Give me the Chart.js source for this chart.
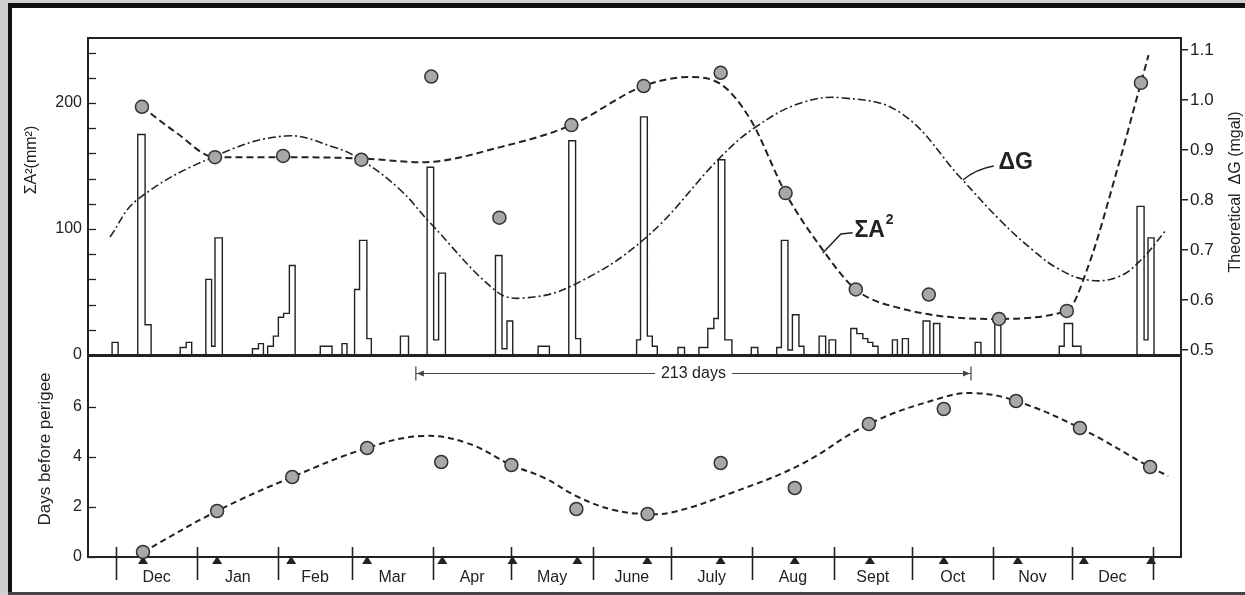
<!DOCTYPE html>
<html>
<head>
<meta charset="utf-8">
<script src="https://cdn.jsdelivr.net/npm/chart.js@4.4.1/dist/chart.umd.min.js"></script>
<style>
  body { margin: 0; background: #cfcfcf; width: 1245px; height: 595px; overflow: hidden; }
  #frame { position: absolute; left: 8px; top: 3px; width: 1237px; height: 589px; box-sizing: border-box;
           background: #fff; border-left: 4px solid #111; border-top: 5px solid #111; }
  #shade { position: absolute; left: 8px; top: 592px; width: 1237px; height: 3px; background: #444; }
  canvas { position: absolute; left: 0; top: 0; }
</style>
</head>
<body>
<div id="frame"></div>
<div id="shade"></div>
<canvas id="topChart" width="1245" height="595"></canvas>
<canvas id="bottomChart" width="1245" height="595"></canvas>
<script>
// x is counted in days from 1 December
const monthNames = ["Dec", "Jan", "Feb", "Mar", "Apr", "May", "June", "July", "Aug", "Sept", "Oct", "Nov", "Dec"];
const monthStarts = [0, 31, 62, 90, 121, 151, 182, 212, 243, 274, 304, 335, 365, 396];
const perigeeDays = [10.3, 38.6, 66.9, 95.9, 124.6, 151.4, 176.2, 202.9, 230.9, 259.2, 287.9, 316.1, 344.4, 369.6, 395.3];

// ΣA² (mm²) monthly sums
const sumDays = [9.9, 37.8, 63.8, 93.7, 120.4, 146.4, 173.9, 201.5, 230.9, 255.7, 282.5, 310.4, 337.2, 363.1, 391.4];
const sumValues = [197, 157, 158, 155, 221, 109, 182.5, 213.5, 224, 128.5, 52, 48, 28.6, 35, 216];
const sumCurveDays = [9.9, 23.3, 37.8, 65, 93.7, 117, 146.8, 173.9, 201.5, 218.7, 230.9, 242.4, 255.7, 269, 282.5, 299.7, 334, 363.1, 371.2, 382.6, 391.4, 394.3];
const sumCurveValues = [197, 176, 157, 157, 156, 153, 165, 182.5, 213.5, 220.6, 215, 186.5, 128.5, 86, 52, 37, 28.6, 35, 70, 149, 216, 238];

// theoretical ΔG (mgal)
const gCurveDays = [-2.3, 8, 37.1, 64.6, 83, 93.7, 108.6, 120, 145.6, 155.6, 173.9, 202.2, 230.9, 244.3, 261.5, 277.9, 299.7, 322.6, 337.9, 350.5, 360, 371.2, 382.6, 391.4, 401];
const gCurveValues = [0.726, 0.80, 0.886, 0.928, 0.906, 0.88, 0.82, 0.754, 0.616, 0.604, 0.628, 0.724, 0.886, 0.946, 0.994, 1.004, 0.974, 0.844, 0.758, 0.698, 0.662, 0.64, 0.646, 0.68, 0.74];

// histogram of A² (left edge day, right edge day, height)
const barFrom = [-1.5, 8.3, 11.1, 24.5, 26.8, 34.3, 36.5, 37.8, 52.1, 54.4, 57.9, 60.1, 62.0, 64.0, 66.2, 78.0, 86.3, 91.1, 93.0, 95.8, 108.6,
  118.8, 121.3, 123.2, 144.9, 147.4, 149.3, 161.2, 172.9, 175.5, 198.8, 200.3, 202.9, 204.8, 214.6, 222.6, 226.0, 228.3, 230.0, 232.5,
  242.6, 252.3, 254.1, 256.6, 258.3, 260.8, 268.5, 272.3, 280.6, 282.9, 285.2, 287.1, 289.0, 296.5, 300.3, 308.2, 312.2, 328.1, 335.6,
  360.2, 362.1, 365.3, 389.9, 392.6, 394.1];
const barTo = [0.8, 11.1, 13.4, 26.8, 28.9, 36.5, 37.8, 40.6, 54.4, 56.3, 60.1, 62.0, 64.0, 66.2, 68.4, 82.5, 88.2, 93.0, 95.8, 97.5, 111.7,
  121.3, 123.2, 125.8, 147.4, 149.3, 151.5, 165.5, 175.5, 177.4, 200.3, 202.9, 204.8, 206.7, 217.1, 226.0, 228.3, 230.0, 232.5, 235.2,
  245.1, 254.1, 256.6, 258.3, 260.8, 262.7, 271.0, 274.8, 282.9, 285.2, 287.1, 289.0, 291.0, 298.4, 302.6, 310.8, 314.6, 330.3, 337.9,
  362.1, 365.3, 368.5, 392.6, 394.1, 396.4];
const barHeight = [10, 175, 24, 6, 10, 60, 7, 93, 5, 9, 7, 15, 30, 33, 71, 7, 9, 52, 91, 13, 15,
  149, 12, 65, 79, 5, 27, 7, 170, 13, 12, 189, 15, 7, 6, 6, 21, 29, 155, 12,
  6, 6, 91, 4, 32, 7, 15, 12, 21, 17, 13, 10, 7, 12, 13, 27, 25, 10, 28,
  7, 25, 7, 118, 12, 93];

// days before perigee
const lagDays = [10.3, 38.6, 67.3, 95.9, 124.2, 151, 175.8, 203, 230.9, 259.2, 287.5, 316.1, 343.7, 368.1, 394.9];
const lagValues = [0.2, 1.84, 3.2, 4.36, 3.8, 3.68, 1.92, 1.72, 3.76, 2.76, 5.32, 5.92, 6.24, 5.16, 3.6];
const lagCurveDays = [10.3, 38.6, 67.3, 95.9, 117, 134, 151, 163.6, 176.5, 190, 203, 213, 236, 261.5, 287.5, 315, 327.6, 343.7, 368.1, 394.9, 401.8];
const lagCurveValues = [0.2, 1.84, 3.2, 4.36, 4.84, 4.56, 3.68, 3.16, 2.4, 1.88, 1.72, 1.8, 2.6, 3.7, 5.32, 6.36, 6.56, 6.24, 5.16, 3.6, 3.24];

const sumTicks = [0, 100, 200];
const gTicks = [0.5, 0.6, 0.7, 0.8, 0.9, 1.0, 1.1];
const lagTicks = [0, 2, 4, 6];
const spanFrom = 114.5, spanTo = 326.5, spanText = "213 days";

const ink = "#222";
const font = "'Liberation Sans', Arial, sans-serif";
const xMin = -10.7, xMax = 406.7;

const zip = (xs, ys) => xs.map((x, i) => ({ x: x, y: ys[i] }));

const histPoints = [];
barFrom.forEach((from, i) => {
  const joinedPrev = i > 0 && Math.abs(from - barTo[i - 1]) < 0.05;
  const joinedNext = i < barFrom.length - 1 && Math.abs(barFrom[i + 1] - barTo[i]) < 0.05;
  if (!joinedPrev) histPoints.push({ x: from, y: 0 });
  histPoints.push({ x: from, y: barHeight[i] });
  histPoints.push({ x: barTo[i], y: barHeight[i] });
  if (!joinedNext) histPoints.push({ x: barTo[i], y: 0 });
});

function innerTicks(chart, scale, values) {
  const ctx = chart.ctx, left = chart.chartArea.left;
  ctx.save();
  ctx.strokeStyle = ink;
  ctx.lineWidth = 1.3;
  values.forEach(v => {
    const y = Math.round(scale.getPixelForValue(v)) + 0.5;
    ctx.beginPath();
    ctx.moveTo(left, y);
    ctx.lineTo(left + 8, y);
    ctx.stroke();
  });
  ctx.restore();
}

function rotatedText(ctx, text, x, y, size) {
  ctx.save();
  ctx.translate(x, y);
  ctx.rotate(-Math.PI / 2);
  ctx.font = size + "px " + font;
  ctx.fillStyle = ink;
  ctx.textAlign = "center";
  ctx.textBaseline = "middle";
  ctx.fillText(text, 0, 0);
  ctx.restore();
}

const topDecor = {
  id: "topDecor",
  beforeDatasetsDraw(chart) {
    const { ctx, chartArea: a, scales } = chart;
    ctx.save();
    ctx.strokeStyle = ink;
    ctx.lineWidth = 2;
    ctx.strokeRect(a.left, a.top, a.right - a.left, a.bottom - a.top);
    ctx.restore();
    const minor = [];
    for (let v = 20; v < scales.ySum.max; v += 20) minor.push(v);
    innerTicks(chart, scales.ySum, minor);
  },
  afterDraw(chart) {
    const { ctx, scales } = chart;
    const x = scales.x, yS = scales.ySum, yG = scales.yG;
    rotatedText(ctx, "ΣA²(mm²)", 32, 160, 16);
    rotatedText(ctx, "Theoretical  ΔG (mgal)", 1236, 192, 16);

    ctx.save();
    ctx.strokeStyle = ink;
    ctx.fillStyle = ink;
    ctx.lineWidth = 1.5;
    // ΔG label and leader
    ctx.beginPath();
    ctx.moveTo(x.getPixelForValue(323.4), yG.getPixelForValue(0.84));
    ctx.quadraticCurveTo(x.getPixelForValue(328.4), yG.getPixelForValue(0.862), x.getPixelForValue(335.2), yG.getPixelForValue(0.868));
    ctx.stroke();
    ctx.font = "bold 23px " + font;
    ctx.textBaseline = "middle";
    ctx.fillText("ΔG", x.getPixelForValue(337), yG.getPixelForValue(0.874));
    // ΣA² label and leader
    ctx.beginPath();
    ctx.moveTo(x.getPixelForValue(269.9), yS.getPixelForValue(81));
    ctx.lineTo(x.getPixelForValue(276.8), yS.getPixelForValue(96));
    ctx.lineTo(x.getPixelForValue(281.3), yS.getPixelForValue(97));
    ctx.stroke();
    const lx = x.getPixelForValue(282), ly = yS.getPixelForValue(99);
    ctx.fillText("ΣA", lx, ly);
    const w = ctx.measureText("ΣA").width;
    ctx.font = "bold 14px " + font;
    ctx.fillText("2", lx + w + 1, ly - 10);
    ctx.restore();
  }
};

const bottomDecor = {
  id: "bottomDecor",
  beforeDatasetsDraw(chart) {
    const { ctx, chartArea: a, scales } = chart;
    const x = scales.x, y = scales.yLag;
    ctx.save();
    ctx.strokeStyle = ink;
    ctx.lineWidth = 2;
    ctx.strokeRect(a.left, a.top, a.right - a.left, a.bottom - a.top);
    ctx.restore();
    innerTicks(chart, y, lagTicks);

    ctx.save();
    ctx.strokeStyle = ink;
    ctx.fillStyle = ink;
    ctx.lineWidth = 1.6;
    // month separators
    monthStarts.forEach(d => {
      const px = Math.round(x.getPixelForValue(d)) + 0.5;
      ctx.beginPath();
      ctx.moveTo(px, a.bottom - 10);
      ctx.lineTo(px, a.bottom + 23);
      ctx.stroke();
    });
    // month names
    ctx.font = "16px " + font;
    ctx.textAlign = "center";
    ctx.textBaseline = "middle";
    monthNames.forEach((m, i) => {
      const mid = (monthStarts[i] + monthStarts[i + 1]) / 2;
      ctx.fillText(m, x.getPixelForValue(mid), a.bottom + 21);
    });
    // perigee markers
    perigeeDays.forEach(d => {
      const px = x.getPixelForValue(d);
      ctx.beginPath();
      ctx.moveTo(px, a.bottom - 1);
      ctx.lineTo(px - 5, a.bottom + 7);
      ctx.lineTo(px + 5, a.bottom + 7);
      ctx.closePath();
      ctx.fill();
    });
    // 213 days span
    const sy = Math.round(y.getPixelForValue(7.36)) + 0.5;
    const x1 = x.getPixelForValue(spanFrom), x2 = x.getPixelForValue(spanTo);
    const xc = (x1 + x2) / 2;
    ctx.font = "16px " + font;
    const tw = ctx.measureText(spanText).width;
    ctx.fillText(spanText, xc, sy);
    ctx.lineWidth = 1.2;
    ctx.strokeStyle = "#444";
    ctx.beginPath();
    ctx.moveTo(x1, sy); ctx.lineTo(xc - tw / 2 - 6, sy);
    ctx.moveTo(xc + tw / 2 + 6, sy); ctx.lineTo(x2, sy);
    ctx.moveTo(x1, sy - 7); ctx.lineTo(x1, sy + 7);
    ctx.moveTo(x2, sy - 7); ctx.lineTo(x2, sy + 7);
    ctx.stroke();
    ctx.beginPath();
    ctx.moveTo(x1 + 1, sy); ctx.lineTo(x1 + 8, sy - 3); ctx.lineTo(x1 + 8, sy + 3); ctx.closePath();
    ctx.moveTo(x2 - 1, sy); ctx.lineTo(x2 - 8, sy - 3); ctx.lineTo(x2 - 8, sy + 3); ctx.closePath();
    ctx.fillStyle = "#444";
    ctx.fill();
    ctx.restore();

    rotatedText(ctx, "Days before perigee", 45, 449, 17);
  }
};

const tickFont = { family: font, size: 16 };

new Chart(document.getElementById("topChart"), {
  type: "line",
  data: {
    datasets: [
      {
        data: zip(sumDays, sumValues), yAxisID: "ySum", showLine: false,
        pointRadius: 6.5, pointBackgroundColor: "#a8a8a8", pointBorderColor: "#333", pointBorderWidth: 1.5,
        clip: false, order: 0
      },
      {
        data: zip(sumCurveDays, sumCurveValues), yAxisID: "ySum", borderColor: ink, borderWidth: 2,
        borderDash: [7, 4], pointRadius: 0, cubicInterpolationMode: "monotone", clip: false, order: 1
      },
      {
        data: zip(gCurveDays, gCurveValues), yAxisID: "yG", borderColor: ink, borderWidth: 1.6,
        borderDash: [8, 3, 2, 3], pointRadius: 0, tension: 0.4, clip: false, order: 2
      },
      {
        data: histPoints, yAxisID: "ySum", borderColor: ink, borderWidth: 1.4,
        pointRadius: 0, tension: 0, order: 3
      }
    ]
  },
  options: {
    responsive: false,
    animation: false,
    events: [],
    layout: { padding: { left: 0, right: 0, top: 38, bottom: 240 } },
    plugins: { legend: { display: false }, tooltip: { enabled: false } },
    scales: {
      x: { type: "linear", min: xMin, max: xMax, display: false },
      ySum: {
        position: "left", min: 0, max: 251.6,
        afterFit: s => { s.width = 88; },
        afterBuildTicks: s => { s.ticks = sumTicks.map(v => ({ value: v })); },
        grid: { display: false, drawTicks: false },
        border: { display: false },
        ticks: { padding: 6, color: ink, font: tickFont }
      },
      yG: {
        position: "right", min: 0.49, max: 1.124,
        afterFit: s => { s.width = 64; },
        afterBuildTicks: s => { s.ticks = gTicks.map(v => ({ value: v })); },
        grid: { drawOnChartArea: false, tickLength: 7, color: ink, lineWidth: 1.5 },
        border: { display: false },
        ticks: { padding: 2, color: ink, font: { family: font, size: 17 }, callback: v => v.toFixed(1) }
      }
    }
  },
  plugins: [topDecor]
});

new Chart(document.getElementById("bottomChart"), {
  type: "line",
  data: {
    datasets: [
      {
        data: zip(lagDays, lagValues), yAxisID: "yLag", showLine: false,
        pointRadius: 6.5, pointBackgroundColor: "#a8a8a8", pointBorderColor: "#333", pointBorderWidth: 1.5,
        clip: false, order: 0
      },
      {
        data: zip(lagCurveDays, lagCurveValues), yAxisID: "yLag", borderColor: ink, borderWidth: 2,
        borderDash: [6, 4], pointRadius: 0, tension: 0.4, clip: false, order: 1
      }
    ]
  },
  options: {
    responsive: false,
    animation: false,
    events: [],
    layout: { padding: { left: 0, right: 64, top: 356, bottom: 38 } },
    plugins: { legend: { display: false }, tooltip: { enabled: false } },
    scales: {
      x: { type: "linear", min: xMin, max: xMax, display: false },
      yLag: {
        position: "left", min: 0, max: 8.04,
        afterFit: s => { s.width = 88; },
        afterBuildTicks: s => { s.ticks = lagTicks.map(v => ({ value: v })); },
        grid: { display: false, drawTicks: false },
        border: { display: false },
        ticks: { padding: 6, color: ink, font: tickFont }
      }
    }
  },
  plugins: [bottomDecor]
});
</script>
</body>
</html>
